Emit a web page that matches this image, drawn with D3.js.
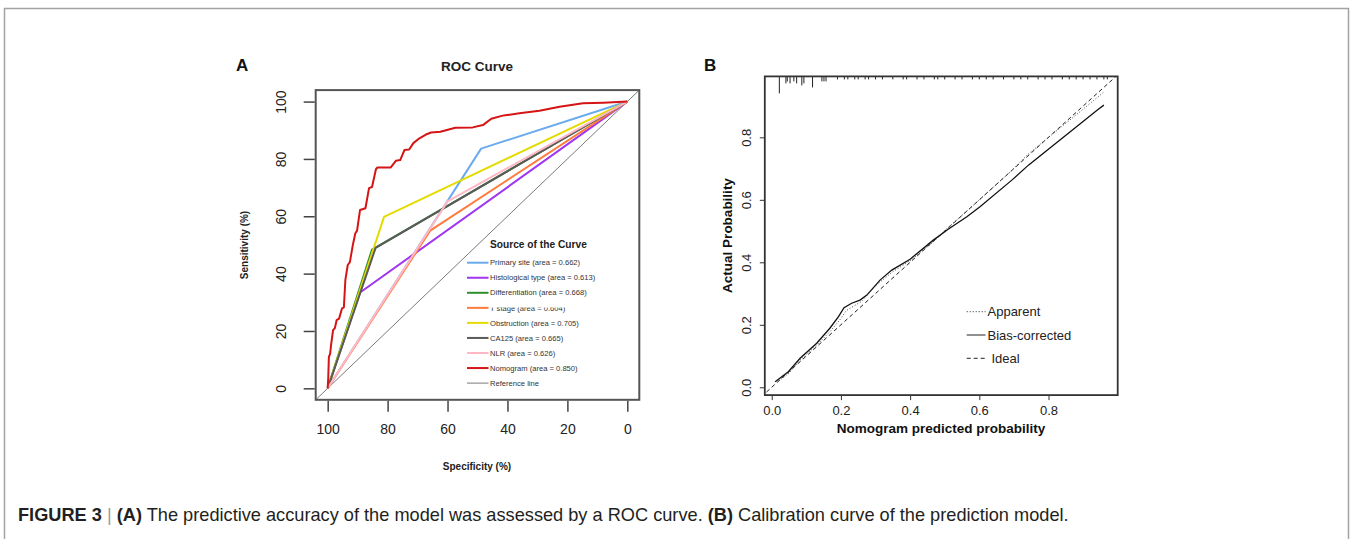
<!DOCTYPE html>
<html>
<head>
<meta charset="utf-8">
<script src="https://cdn.jsdelivr.net/npm/d3@7"></script>
<style>
  body { margin: 0; background: #fff; }
  text { font-family: "Liberation Sans", Arial, sans-serif; }
</style>
</head>
<body>
<script>
// ---- panel A: ROC curves (specificity %, sensitivity %) ----
const rocNames = ["Primary site", "Histological type", "Differentiation", "T stage",
                  "Obstruction", "CA125", "NLR", "Nomogram"];
const rocAreas = [0.662, 0.613, 0.668, 0.604, 0.705, 0.665, 0.626, 0.850];
const rocColors = ["#6aaaee", "#a035f2", "#2f8f2f", "#ff7a3c", "#e4dc00", "#5a5a5a", "#ffb8c4", "#d51515"];

const primarySpec = [100, 48.8, 0], primarySens = [0, 83.6, 100];
const histoSpec = [100, 89.2, 0], histoSens = [0, 33.4, 100];
const diffSpec = [100, 85.2, 0], diffSens = [0, 48.4, 100];
const tstageSpec = [100, 65.8, 0], tstageSens = [0, 55.0, 100];
const obstrSpec = [100, 81.2, 0], obstrSens = [0, 59.8, 100];
const ca125Spec = [100, 84.0, 0], ca125Sens = [0, 49.0, 100];
const nlrSpec = [100, 60.0, 0], nlrSens = [0, 65.2, 100];
const nomoSpec = [100, 99.8, 99.6, 99.2, 98.8, 98.2, 97.6, 97.0, 96.2, 95.2, 94.6, 94.1, 93.3, 92.6,
                  91.6, 90.8, 90.2, 89.2, 87.4, 86.2, 85.2, 83.9, 83.4, 79.0, 77.2, 75.8, 74.4, 72.8,
                  71.4, 69.4, 67.2, 65.5, 62.4, 57.4, 51.6, 48.2, 45.4, 41.6, 36.0, 29.3, 22.6, 14.8, 8.0, 0];
const nomoSens = [0, 4, 11, 12, 15.7, 20.3, 21, 23.8, 24.3, 27.9, 28.2, 37.8, 43, 44,
                  50, 54, 55, 62.2, 62.8, 69.8, 70.2, 76.4, 77, 77, 79.4, 79.6, 83.1, 83.3,
                  85.5, 87.2, 88.5, 89.2, 89.5, 90.9, 91, 91.8, 94, 95.1, 95.9, 96.8, 98.2, 99.4, 99.6, 100];

const specTicks = [100, 80, 60, 40, 20, 0];
const sensTicks = [0, 20, 40, 60, 80, 100];

// ---- panel B: calibration ----
const biasX = [0.01, 0.048, 0.082, 0.13, 0.168, 0.193, 0.209, 0.231, 0.255, 0.275, 0.313, 0.347,
               0.40, 0.467, 0.51, 0.564, 0.602, 0.694, 0.742, 0.944, 0.96];
const biasY = [0.018, 0.05, 0.093, 0.141, 0.189, 0.226, 0.255, 0.269, 0.279, 0.295, 0.343, 0.375,
               0.41, 0.471, 0.506, 0.546, 0.578, 0.663, 0.711, 0.89, 0.903];
const apparentX = [0.02, 0.05, 0.08, 0.13, 0.17, 0.20, 0.215, 0.24, 0.26, 0.30, 0.35, 0.40, 0.47,
                   0.51, 0.56, 0.60, 0.69, 0.74, 0.80, 0.90, 0.96];
const apparentY = [0.02, 0.045, 0.085, 0.135, 0.18, 0.22, 0.245, 0.262, 0.275, 0.325, 0.37, 0.405, 0.468,
                   0.512, 0.56, 0.60, 0.69, 0.745, 0.80, 0.89, 0.945];
const rugX = [0.022, 0.041, 0.045, 0.053, 0.064, 0.072, 0.087, 0.093, 0.118, 0.145, 0.151, 0.157,
              0.19, 0.21, 0.22, 0.24, 0.25, 0.27, 0.28, 0.30, 0.32, 0.35, 0.38, 0.39, 0.42, 0.44,
              0.47, 0.48, 0.50, 0.53, 0.55, 0.58, 0.60, 0.62, 0.64, 0.67, 0.70, 0.72, 0.74, 0.77,
              0.79, 0.81, 0.84, 0.86, 0.88, 0.90, 0.92, 0.94, 0.96, 0.97];
const rugCount = [8, 3, 2, 3, 2, 3, 4, 3, 5, 2, 2, 2,
                  1, 1, 1, 1, 1, 1, 1, 1, 1, 1, 1, 1, 1, 1,
                  1, 1, 1, 1, 1, 1, 1, 1, 1, 1, 1, 1, 1, 1,
                  1, 1, 1, 1, 1, 1, 1, 1, 1, 1];
const probTicks = [0, 0.2, 0.4, 0.6, 0.8];
const calLegend = ["Apparent", "Bias-corrected", "Ideal"];

const svg = d3.select("body").append("svg").attr("width", 1352).attr("height", 539);

// outer figure frame
svg.append("rect").attr("x", 4.5).attr("y", 8.5).attr("width", 1344).attr("height", 600)
  .attr("fill", "none").attr("stroke", "#a3a3a3").attr("stroke-width", 1.5);

// ================= Panel A =================
const xA = d3.scaleLinear().domain([104, -4]).range([315.7, 639.3]);
const yA = d3.scaleLinear().domain([-4, 104]).range([399.8, 90.1]);

const gA = svg.append("g");
gA.append("clipPath").attr("id", "clipA").append("rect")
  .attr("x", xA(104)).attr("y", yA(104)).attr("width", xA(-4) - xA(104)).attr("height", yA(-4) - yA(104));

const lineA = d3.line().x(d => xA(d[0])).y(d => yA(d[1]));
const plotA = gA.append("g").attr("clip-path", "url(#clipA)");

// reference line
plotA.append("path").datum([[104, -4], [-4, 104]]).attr("d", lineA)
  .attr("fill", "none").attr("stroke", "#7a7a7a").attr("stroke-width", 1);

const rocSpecs = [primarySpec, histoSpec, diffSpec, tstageSpec, obstrSpec, ca125Spec, nlrSpec, nomoSpec];
const rocSens = [primarySens, histoSens, diffSens, tstageSens, obstrSens, ca125Sens, nlrSens, nomoSens];
rocSpecs.forEach((sp, i) => {
  plotA.append("path").datum(sp.map((s, j) => [s, rocSens[i][j]])).attr("d", lineA)
    .attr("fill", "none").attr("stroke", rocColors[i]).attr("stroke-width", 2)
    .attr("stroke-linejoin", "round");
});

// box
gA.append("rect").attr("x", xA(104)).attr("y", yA(104))
  .attr("width", xA(-4) - xA(104)).attr("height", yA(-4) - yA(104))
  .attr("fill", "none").attr("stroke", "#555").attr("stroke-width", 2);

// axes
const axAx = gA.append("g").attr("transform", `translate(0,${yA(-4) + 1})`)
  .call(d3.axisBottom(xA).tickValues(specTicks).tickSize(11).tickFormat(d3.format("d")));
const axAy = gA.append("g").attr("transform", `translate(${xA(104) - 1},0)`)
  .call(d3.axisLeft(yA).tickValues(sensTicks).tickSize(11).tickFormat(d3.format("d")));
[axAx, axAy].forEach(a => {
  a.select(".domain").remove();
  a.selectAll("line").attr("stroke", "#444").attr("stroke-width", 1.5);
  a.selectAll("text").attr("font-size", 14).attr("fill", "#222")
    .style("font-family", "'Liberation Sans', Arial, sans-serif");
});
axAx.selectAll("text").attr("y", 28.5).attr("dy", "0.35em");
axAy.selectAll("text").attr("x", null).attr("dy", "0.35em").attr("text-anchor", "middle")
  .attr("transform", "translate(-33.3,0) rotate(-90)");

gA.append("text").attr("x", 477).attr("y", 71).attr("text-anchor", "middle")
  .attr("font-size", 13.5).attr("font-weight", "bold").attr("fill", "#222").text("ROC Curve");
gA.append("text").attr("x", 236).attr("y", 71).attr("font-size", 17).attr("font-weight", "bold")
  .attr("fill", "#111").text("A");
gA.append("text").attr("x", 477).attr("y", 470).attr("text-anchor", "middle")
  .attr("font-size", 10).attr("font-weight", "bold").attr("fill", "#222").text("Specificity (%)");
gA.append("text").attr("transform", "translate(248,245) rotate(-90)").attr("text-anchor", "middle")
  .attr("font-size", 10).attr("font-weight", "bold").attr("fill", "#222").text("Sensitivity (%)");

// legend
const legA = gA.append("g");
legA.append("text").attr("x", 490).attr("y", 247.5).attr("font-size", 10.2).attr("font-weight", "bold")
  .attr("fill", "#222").text("Source of the Curve");
legA.append("clipPath").attr("id", "clipT").attr("clipPathUnits", "userSpaceOnUse").append("rect")
  .attr("x", 480).attr("y", 307.4).attr("width", 150).attr("height", 20);
const legItems = rocNames.map((n, i) => ({ label: `${n} (area = ${rocAreas[i].toFixed(3)})`, color: rocColors[i], w: 2 }))
  .concat([{ label: "Reference line", color: "#7a7a7a", w: 1 }]);
legItems.forEach((d, i) => {
  const yy = 262.7 + i * 15.05;
  legA.append("line").attr("x1", 467).attr("x2", 488.5).attr("y1", yy).attr("y2", yy)
    .attr("stroke", d.color).attr("stroke-width", d.w);
  const t = legA.append("text").attr("x", 490).attr("y", yy).attr("dy", "0.35em")
    .attr("font-size", 7.6).attr("fill", "#333").text(d.label);
  if (i === 3) t.attr("clip-path", "url(#clipT)");
});

// ================= Panel B =================
const xB = d3.scaleLinear().domain([-0.02, 1.0]).range([764.8, 1117.7]);
const yB = d3.scaleLinear().domain([-0.025, 0.995]).range([395.1, 76.4]);
const gB = svg.append("g");
gB.append("clipPath").attr("id", "clipB").append("rect")
  .attr("x", xB(-0.02)).attr("y", yB(0.995)).attr("width", xB(1.0) - xB(-0.02)).attr("height", yB(-0.025) - yB(0.995));
const lineB = d3.line().x(d => xB(d[0])).y(d => yB(d[1]));
const plotB = gB.append("g").attr("clip-path", "url(#clipB)");

plotB.append("path").datum([[-0.03, -0.03], [1.0, 1.0]]).attr("d", lineB)
  .attr("fill", "none").attr("stroke", "#222").attr("stroke-width", 1).attr("stroke-dasharray", "4,3");
plotB.append("path").datum(apparentX.map((x, i) => [x, apparentY[i]])).attr("d", lineB)
  .attr("fill", "none").attr("stroke", "#444").attr("stroke-width", 1).attr("stroke-dasharray", "1,2");
plotB.append("path").datum(biasX.map((x, i) => [x, biasY[i]])).attr("d", lineB)
  .attr("fill", "none").attr("stroke", "#111").attr("stroke-width", 1.3);

// rug of predicted probabilities
const rugLen = d3.scaleLinear().domain([0, 8]).range([0, 16]);
plotB.selectAll("line.rug").data(rugX).join("line").attr("class", "rug")
  .attr("x1", d => xB(d)).attr("x2", d => xB(d))
  .attr("y1", yB(0.995)).attr("y2", (d, i) => yB(0.995) + rugLen(rugCount[i]) + 1)
  .attr("stroke", "#222").attr("stroke-width", 1);

gB.append("rect").attr("x", xB(-0.02)).attr("y", yB(0.995))
  .attr("width", xB(1.0) - xB(-0.02)).attr("height", yB(-0.025) - yB(0.995))
  .attr("fill", "none").attr("stroke", "#333").attr("stroke-width", 1.8);

const axBx = gB.append("g").attr("transform", `translate(0,${yB(-0.025)})`)
  .call(d3.axisBottom(xB).tickValues(probTicks).tickSize(5).tickFormat(d3.format(".1f")));
const axBy = gB.append("g").attr("transform", `translate(${xB(-0.02)},0)`)
  .call(d3.axisLeft(yB).tickValues(probTicks).tickSize(5).tickFormat(d3.format(".1f")));
[axBx, axBy].forEach(a => {
  a.select(".domain").remove();
  a.selectAll("line").attr("stroke", "#333");
  a.selectAll("text").attr("font-size", 13).attr("fill", "#222")
    .style("font-family", "'Liberation Sans', Arial, sans-serif");
});
axBx.selectAll("text").attr("y", 15).attr("dy", "0.35em");
axBy.selectAll("text").attr("x", null).attr("dy", "0.35em").attr("text-anchor", "middle")
  .attr("transform", "translate(-18,0) rotate(-90)");

gB.append("text").attr("x", 704).attr("y", 71).attr("font-size", 17).attr("font-weight", "bold")
  .attr("fill", "#111").text("B");
gB.append("text").attr("x", 941).attr("y", 433).attr("text-anchor", "middle")
  .attr("font-size", 13.5).attr("font-weight", "bold").attr("fill", "#111").text("Nomogram predicted probability");
gB.append("text").attr("transform", "translate(731.5,235.5) rotate(-90)").attr("text-anchor", "middle")
  .attr("font-size", 13.5).attr("font-weight", "bold").attr("fill", "#111").text("Actual Probability");

const legDash = ["1,2", null, "4,3"];
calLegend.forEach((lab, i) => {
  const yy = 311.7 + i * 23.3;
  gB.append("line").attr("x1", 966.7).attr("x2", 985.5).attr("y1", yy).attr("y2", yy)
    .attr("stroke", "#222").attr("stroke-width", 1).attr("stroke-dasharray", legDash[i]);
  gB.append("text").attr("x", i === 2 ? 991.5 : 987.5).attr("y", yy).attr("dy", "0.35em")
    .attr("font-size", 13).attr("fill", "#222").text(lab);
});

// ================= caption =================
const cap = svg.append("text").attr("x", 18).attr("y", 520.5).attr("font-size", 18.2).attr("fill", "#231f20");
cap.append("tspan").attr("font-weight", "bold").text("FIGURE 3");
cap.append("tspan").attr("fill", "#9a9a9a").text(" | ");
cap.append("tspan").attr("font-weight", "bold").text("(A)");
cap.append("tspan").text(" The predictive accuracy of the model was assessed by a ROC curve. ");
cap.append("tspan").attr("font-weight", "bold").text("(B)");
cap.append("tspan").text(" Calibration curve of the prediction model.");
</script>
</body>
</html>
